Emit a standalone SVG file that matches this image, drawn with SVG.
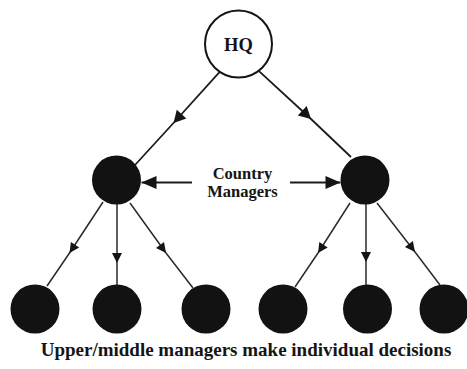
<svg xmlns="http://www.w3.org/2000/svg" width="467" height="369" viewBox="0 0 467 369">
  <style>
    text { font-family: "Liberation Serif", "DejaVu Serif", serif; font-weight: bold; fill: #151515; text-anchor: middle; }
    .node { fill: #121212; }
    .hq { fill: #ffffff; stroke: #151515; stroke-width: 2; }
    .edge { fill: none; stroke: #1c1c1c; stroke-width: 1.8; }
    .edge-sm { fill: none; stroke: #2a2a2a; stroke-width: 1.5; }
  </style>
  <defs>
    <!-- arrowheads placed at the middle vertex of each connector -->
    <marker id="headL" markerUnits="userSpaceOnUse" markerWidth="16" markerHeight="16" refX="12" refY="6.5" orient="auto" overflow="visible">
      <path d="M0,0 L12,6.5 L0,13 Z" fill="#151515"/>
    </marker>
    <marker id="headS" markerUnits="userSpaceOnUse" markerWidth="12" markerHeight="12" refX="10" refY="5" orient="auto" overflow="visible">
      <path d="M0,0 L10,5 L0,10 Z" fill="#151515"/>
    </marker>
    <marker id="headH" markerUnits="userSpaceOnUse" markerWidth="16" markerHeight="16" refX="15" refY="6.5" orient="auto" overflow="visible">
      <path d="M0,0 L15,6.5 L0,13 Z" fill="#151515"/>
    </marker>
  </defs>

  <g id="connectors">
    <!-- HQ to country managers -->
    <path class="edge" d="M219.5,72.2 L173.5,123 L135,165" marker-mid="url(#headL)"/>
    <path class="edge" d="M259,71.1 L311,119 L351,157" marker-mid="url(#headL)"/>
    <!-- label pointers -->
    <path class="edge" d="M192,182.5 L141.5,182.5" marker-end="url(#headH)"/>
    <path class="edge" d="M290,182.5 L340.5,182.5" marker-end="url(#headH)"/>
    <!-- left manager to local units -->
    <path class="edge-sm" d="M103,202 L69.5,253 L47,286" marker-mid="url(#headS)"/>
    <path class="edge-sm" d="M117,204 L117,263 L117,285" marker-mid="url(#headS)"/>
    <path class="edge-sm" d="M130,203 L166,253 L193,288" marker-mid="url(#headS)"/>
    <!-- right manager to local units -->
    <path class="edge-sm" d="M350,203 L318,253 L295,287" marker-mid="url(#headS)"/>
    <path class="edge-sm" d="M366,204 L366,262 L366,285" marker-mid="url(#headS)"/>
    <path class="edge-sm" d="M377,203 L415,252 L440,285" marker-mid="url(#headS)"/>
  </g>

  <g id="hq">
    <circle class="hq" cx="238.5" cy="44" r="33.5"/>
    <text x="238.5" y="50.5" font-size="18.5" font-family="Liberation Serif, serif">HQ</text>
  </g>

  <g id="manager-left">
    <circle class="node" cx="116.5" cy="180" r="24.5"/>
  </g>
  <g id="manager-right">
    <circle class="node" cx="365" cy="180" r="24.5"/>
  </g>

  <g id="managers-label">
    <text x="242.5" y="179" font-size="16.5" font-family="Liberation Serif, serif">Country</text>
    <text x="242.5" y="197" font-size="16.5" font-family="Liberation Serif, serif">Managers</text>
  </g>

  <g id="unit-1"><circle class="node" cx="35" cy="309" r="24.5"/></g>
  <g id="unit-2"><circle class="node" cx="117" cy="309" r="24.5"/></g>
  <g id="unit-3"><circle class="node" cx="206" cy="309" r="24.5"/></g>
  <g id="unit-4"><circle class="node" cx="283" cy="309" r="24.5"/></g>
  <g id="unit-5"><circle class="node" cx="367.5" cy="309" r="24.5"/></g>
  <g id="unit-6"><circle class="node" cx="444" cy="309" r="24.5"/></g>

  <g id="caption">
    <text x="246" y="356" font-size="19" font-family="Liberation Serif, serif">Upper/middle managers make individual decisions</text>
  </g>
</svg>
